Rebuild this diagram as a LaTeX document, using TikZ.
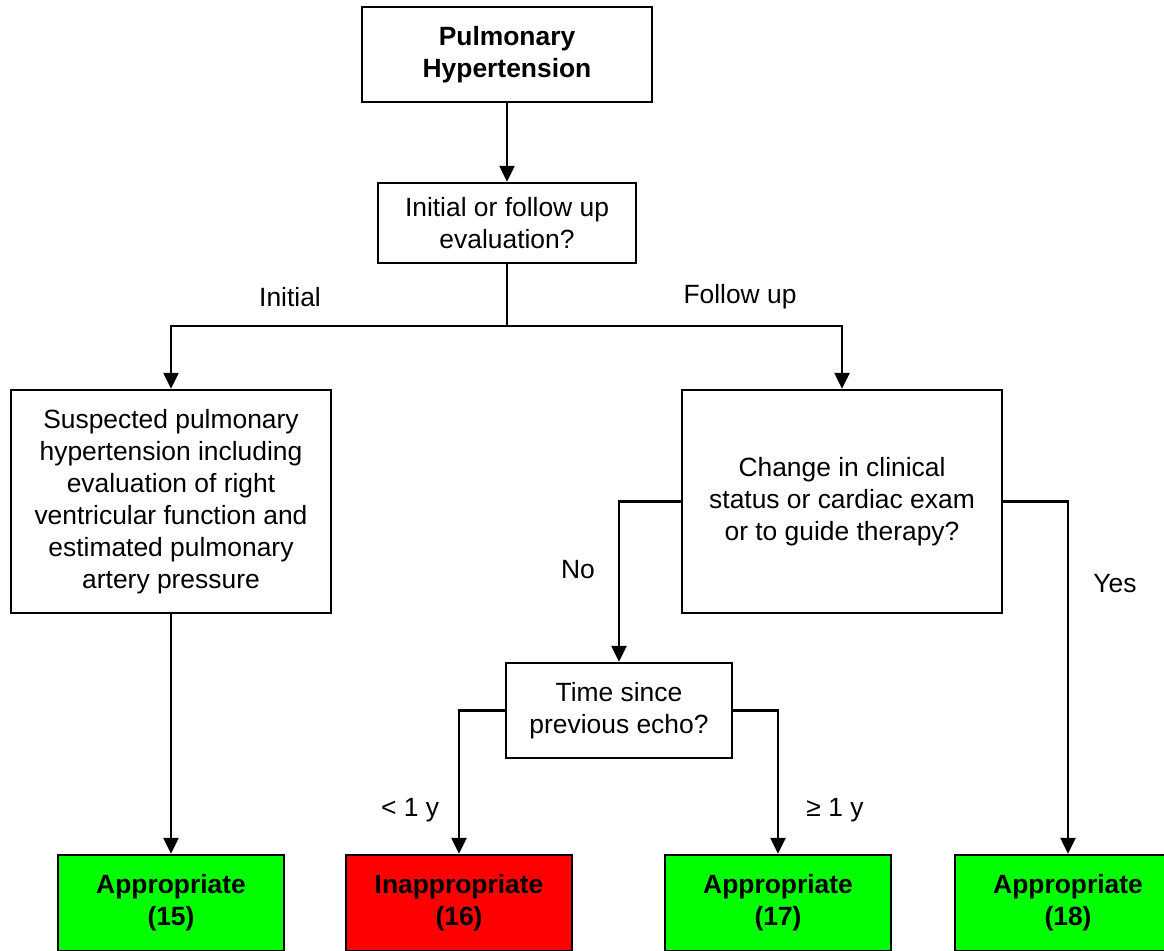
\documentclass[tikz,border=0pt]{standalone}
\usepackage{fontspec}
\setmainfont{Liberation Sans}
\usetikzlibrary{arrows.meta}
\begin{document}
\begin{tikzpicture}[x=1pt,y=-1pt,
  every node/.style={font=\fontsize{26.4}{32}\selectfont},
  box/.style={draw, line width=2.4pt, align=center, inner sep=0pt, fill=white},
  outcome/.style={box, minimum width=226pt, minimum height=96pt, font=\fontsize{26.4}{32}\selectfont\bfseries},
  good/.style={outcome, fill=green},
  bad/.style={outcome, fill=red},
  link/.style={line width=2.4pt},
  arr/.style={link, -{Triangle[width=15pt,length=16pt]}},
  lbl/.style={inner sep=0pt}
]
\useasboundingbox (0,0) rectangle (1164,950);

% decision boxes
\node[box, minimum width=290pt, minimum height=95pt, font=\fontsize{26.4}{32}\selectfont\bfseries]
  (top) at (507,54.5) {Pulmonary\\Hypertension};
\node[box, minimum width=258pt, minimum height=80pt] (q1) at (507,223) {Initial or follow up\\evaluation?};
\node[box, minimum width=320pt, minimum height=223pt] (susp) at (171,501.5)
  {Suspected pulmonary\\hypertension including\\evaluation of right\\ventricular function and\\estimated pulmonary\\artery pressure};
\node[box, minimum width=320pt, minimum height=223pt] (chg) at (842,501.5)
  {Change in clinical\\status or cardiac exam\\or to guide therapy?};
\node[box, minimum width=226pt, minimum height=95pt] (time) at (619,710.5) {Time since\\previous echo?};

% outcomes
\node[good] (a15) at (171,903) {Appropriate\\(15)};
\node[bad]  (i16) at (459,903) {Inappropriate\\(16)};
\node[good] (a17) at (778,903) {Appropriate\\(17)};
\node[good] (a18) at (1068,903) {Appropriate\\(18)};

% connectors
\coordinate (fork) at (507,326);
\draw[arr] (top) -- (q1);
\draw[link] (q1) -- (fork);
\draw[arr] (fork) -| (susp.north);
\draw[arr] (fork) -| (chg.north);
\draw[arr] (susp) -- (a15);
\draw[arr] (chg.west) -| (time.north);
\draw[arr] (chg.east) -| (a18.north);
\draw[arr] (time.west) -| (i16.north);
\draw[arr] (time.east) -| (a17.north);

% branch labels
\node[lbl] (lInit) at (290,297) {Initial};
\node[lbl] (lFol) at (740,297) {Follow up};
\node[lbl] (lNo) at (578,570) {No};
\node[lbl] (lYes) at (1115,584) {Yes};
\node[lbl] (lLt) at (410,810) {< 1 y};
\node[lbl] (lGe) at (835,810) {≥ 1 y};
\end{tikzpicture}
\end{document}
